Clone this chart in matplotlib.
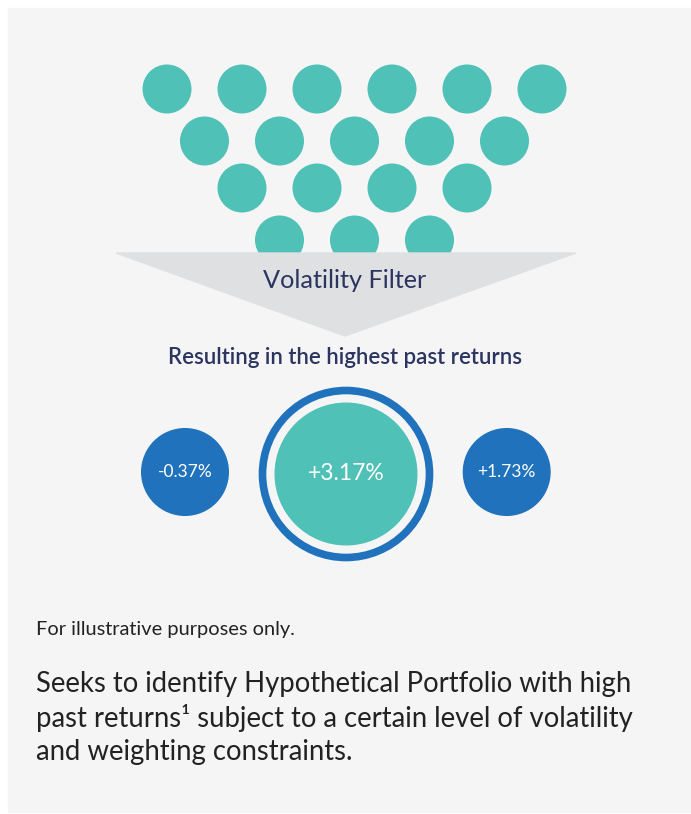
import matplotlib
matplotlib.use("Agg")
import matplotlib.pyplot as plt
from matplotlib.patches import Circle, Polygon, Rectangle

# Datos del grafico
row_counts = [6, 5, 4, 3]           # circulos por fila del embudo
row_y = [89, 141, 188, 240]
filter_label = "Volatility Filter"
result_title = "Resulting in the highest past returns"
returns = [-0.37, 3.17, 1.73]       # izquierda, centro (ganador), derecha
note = "For illustrative purposes only."
body_lines = ["Seeks to identify Hypothetical Portfolio with high",
              "past returns\u00b9 subject to a certain level of volatility",
              "and weighting constraints."]

teal = "#4fc1b7"
blue = "#1f72bb"
navy = "#2b3560"
bg = "#f5f5f5"

plt.rcParams['font.family'] = ['Lato', 'DejaVu Sans']

fig = plt.figure(figsize=(6.91, 8.14), dpi=100)
ax = fig.add_axes([0, 0, 1, 1])
ax.set_xlim(0, 691)
ax.set_ylim(814, 0)
ax.set_aspect('equal')
ax.axis('off')
fig.patch.set_facecolor('white')

# panel de fondo
ax.add_patch(Rectangle((8, 8), 683, 804, color=bg, zorder=0))

# circulos del embudo
spacing = 75
cx = 354.5
for n, y in zip(row_counts, row_y):
    x0 = cx - (n - 1) * spacing / 2
    for i in range(n):
        ax.add_patch(Circle((x0 + i * spacing, y), 23.8, color=teal, zorder=1))

# triangulo del filtro
ax.add_patch(Polygon([(116, 253), (576, 253), (345, 336)], closed=True,
                     color="#dfe0e2", zorder=2))
ax.text(345, 281, filter_label, ha='center', va='center', fontsize=18.2,
        color=navy, zorder=3)

ax.text(345, 358, result_title, ha='center', va='center', fontsize=16,
        fontweight='semibold', color=navy)

# circulos de resultados
centers = [(185, 472), (346, 474), (506.7, 472)]
best = returns.index(max(returns))
for (x, y), r in zip(centers, returns):
    lab = f"{r:+.2f}%"
    if returns.index(r) == best:
        ax.add_patch(Circle((x, y), 83.5, fill=False, ec=blue, lw=5.5))
        ax.add_patch(Circle((x, y), 70.8, color=teal))
        ax.text(x, y, lab, ha='center', va='center', fontsize=16.5,
                color='white')
    else:
        ax.add_patch(Circle((x, y), 43.3, color=blue))
        ax.text(x, y, lab, ha='center', va='center', fontsize=12.5,
                color='white')

# textos inferiores
ax.text(36, 630, note, ha='left', va='center', fontsize=14.4, color="#222222")
for k, line in enumerate(body_lines):
    ax.text(36, 684 + k * 34, line, ha='left', va='center', fontsize=19.8,
            color="#222222")

fig.savefig("out.png", dpi=100, facecolor=fig.get_facecolor())
